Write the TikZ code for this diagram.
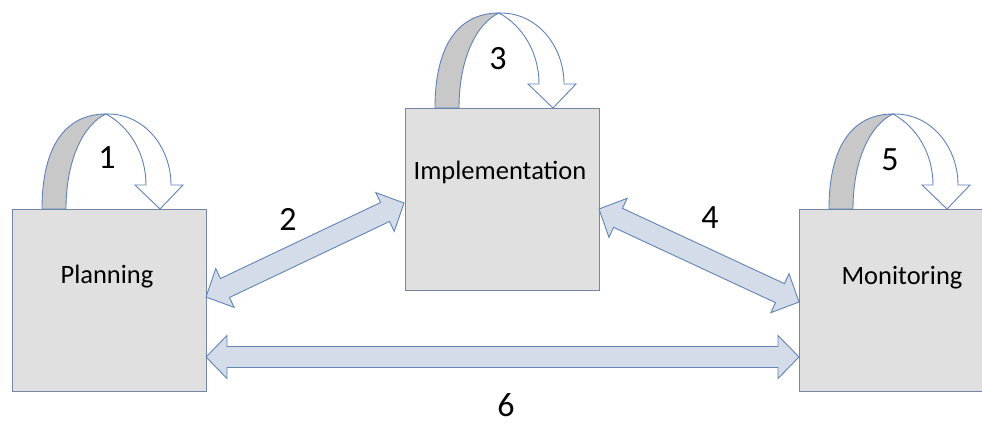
\documentclass[tikz,border=0pt]{standalone}
\usepackage{fontspec}
\setmainfont{Carlito}
\usetikzlibrary{calc}
\definecolor{boxfill}{RGB}{224,224,224}
\definecolor{boxline}{RGB}{115,135,165}
\definecolor{loopline}{RGB}{95,130,185}
\definecolor{loopgrey}{RGB}{200,200,200}
\definecolor{arrfill}{RGB}{211,220,232}
\definecolor{arrline}{RGB}{98,131,181}
\tikzset{
  box/.style={draw=boxline, fill=boxfill, line width=0.9pt, minimum width=194pt, minimum height=182pt, inner sep=0pt, outer sep=0pt},
  lbl/.style={font=\fontsize{26.5}{30}\selectfont, inner sep=0pt},
  num/.style={font=\fontsize{34}{38}\selectfont, inner sep=0pt},
  dbl/.style={draw=arrline, fill=arrfill, line width=0.9pt, line join=miter},
  backband/.style={draw=loopline, fill=loopgrey, line width=0.9pt},
  frontband/.style={draw=loopline, fill=white, line width=0.9pt, line join=miter},
  selfloop/.pic={
    \filldraw[backband] (30,0) .. controls (30,-65) and (55,-95) .. (94,-95)
      .. controls (72,-85) and (54,-50) .. (54,0) -- cycle;
    \filldraw[frontband] (94,-95) .. controls (132,-96) and (159,-62) .. (159,-24)
      -- (171,-24) -- (148,0) -- (123,-24) -- (134,-24)
      .. controls (134,-55) and (118,-82) .. (94,-95) -- cycle;
  }
}
\newcommand\dblarrow[2]{%
  \filldraw[dbl] (#1)
    -- ($(#1)!21pt!(#2)!21.5pt!90:(#2)$)
    -- ($(#1)!21pt!(#2)!10.5pt!90:(#2)$)
    -- ($(#2)!21pt!(#1)!10.5pt!-90:(#1)$)
    -- ($(#2)!21pt!(#1)!21.5pt!-90:(#1)$)
    -- (#2)
    -- ($(#2)!21pt!(#1)!21.5pt!90:(#1)$)
    -- ($(#2)!21pt!(#1)!10.5pt!90:(#1)$)
    -- ($(#1)!21pt!(#2)!10.5pt!-90:(#2)$)
    -- ($(#1)!21pt!(#2)!21.5pt!-90:(#2)$)
    -- cycle;}
\begin{document}
\begin{tikzpicture}[x=1pt,y=-1pt]
\useasboundingbox (0,0) rectangle (982,427);
% boxes
\node[box] (plan) at (109,300) {};
\node[box] (impl) at (502,199) {};
\node[box] (mon) at (896,300) {};
% labels
\node[lbl] (plantxt) at ($(plan.north)+(-2,68)$) {Planning};
\node[lbl] (impltxt) at ($(impl.north)+(-2,64)$) {Implementation};
\node[lbl] (montxt) at ($(mon.north)+(6,69)$) {Monitoring};
% self loops
\pic at (plan.north west) {selfloop};
\pic at (impl.north west) {selfloop};
\pic at (mon.north west) {selfloop};
% connector end points
\coordinate (a2s) at ($(plan.east)+(0,-3)$);
\coordinate (a2e) at ($(impl.west)+(-1,4)$);
\coordinate (a4s) at ($(impl.east)+(0,10)$);
\coordinate (a4e) at ($(mon.west)+(0,2)$);
\coordinate (a6s) at ($(plan.east)+(0,57)$);
\coordinate (a6e) at ($(mon.west)+(0,57)$);
\dblarrow{a2s}{a2e}
\dblarrow{a4s}{a4e}
\dblarrow{a6s}{a6e}
% numbers
\node[num] (n1) at (107,158) {1};
\node[num] (n2) at (288,219) {2};
\node[num] (n3) at (498,59) {3};
\node[num] (n4) at (710,218) {4};
\node[num] (n5) at (890,160) {5};
\node[num] (n6) at (506,405) {6};
\end{tikzpicture}
\end{document}
